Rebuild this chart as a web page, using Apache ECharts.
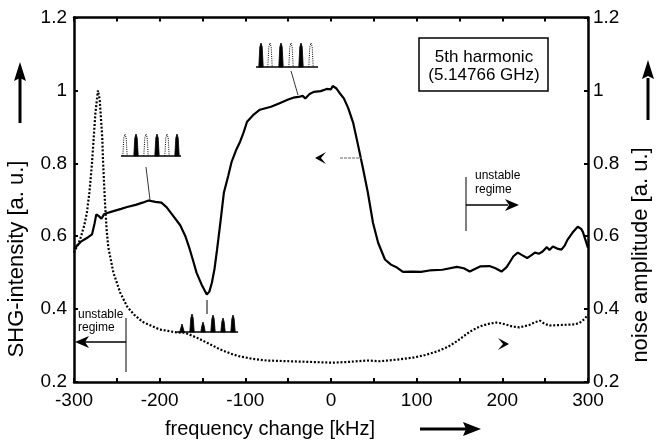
<!DOCTYPE html>
<html><head><meta charset="utf-8">
<script src="https://cdn.jsdelivr.net/npm/echarts@6/dist/echarts.min.js"></script>
<style>html,body{margin:0;padding:0;background:#fff}#c{width:658px;height:444px}</style>
</head><body><div id="c"></div>
<script>
// frequency change [kHz] and SHG intensity (solid curve)
const shgFreq = [-300,-292,-285,-279,-276,-274,-271,-268,-265,-262,-255,-245,-238,-228,-220,-213,-205,-198,-192,-184,-176,-170,-165,-160,-157,-151,-145,-142,-139,-136,-133,-129,-125,-120,-116,-111,-106,-102,-98,-91,-83,-70,-60,-50,-44,-38,-33,-30,-25,-20,-12,-5,0,2,6,10,15,20,26,31,37,43,49,55,63,70,77,84,95,105,115,130,147,155,162,168,174,185,192,199,205,209,213,218,223,229,234,238,243,247,252,255,259,264,269,273,276,282,288,292,294,297,300];
const shgValues = [0.565,0.585,0.595,0.605,0.635,0.66,0.655,0.648,0.66,0.663,0.668,0.675,0.68,0.686,0.692,0.698,0.694,0.692,0.68,0.655,0.63,0.6,0.565,0.525,0.5,0.467,0.44,0.448,0.473,0.51,0.563,0.64,0.72,0.765,0.804,0.835,0.86,0.885,0.914,0.932,0.947,0.955,0.965,0.975,0.98,0.982,0.985,0.978,0.99,0.996,0.998,1.004,1.003,1.012,1.006,0.993,0.978,0.952,0.91,0.856,0.79,0.72,0.637,0.582,0.536,0.522,0.514,0.502,0.503,0.502,0.506,0.508,0.516,0.512,0.503,0.51,0.517,0.518,0.512,0.503,0.515,0.53,0.545,0.555,0.548,0.54,0.548,0.555,0.552,0.558,0.57,0.562,0.572,0.566,0.563,0.575,0.59,0.61,0.626,0.62,0.612,0.59,0.568];
// noise amplitude (dotted curve)
const noiseFreq = [-300,-293,-288,-285,-282,-279,-277,-275,-273,-272,-270,-269,-267,-266,-264,-262,-260,-254,-246,-238,-230,-220,-200,-180,-170,-157,-145,-130,-115,-106,-90,-75,-36,2,20,42,57,80,96,110,124,137,147,155,162,170,177,185,193,199,205,212,220,226,232,238,244,249,255,265,275,284,290,296,300];
const noiseValues = [0.555,0.59,0.63,0.664,0.72,0.8,0.87,0.938,0.98,1.0,0.975,0.94,0.87,0.8,0.7,0.62,0.57,0.5,0.445,0.407,0.385,0.365,0.344,0.336,0.335,0.322,0.308,0.29,0.276,0.27,0.263,0.259,0.256,0.253,0.255,0.259,0.257,0.262,0.267,0.274,0.284,0.297,0.312,0.326,0.338,0.348,0.355,0.36,0.363,0.361,0.357,0.352,0.35,0.353,0.357,0.364,0.368,0.36,0.355,0.356,0.357,0.358,0.362,0.373,0.385];
const xTickLabels = [-300,-200,-100,0,100,200,300];
const yTickLabels = [0.2,0.4,0.6,0.8,1,1.2];

const FONT = '"Liberation Sans", Arial, sans-serif';
const chart = echarts.init(document.getElementById('c'), null, {renderer:'canvas'});
const axLine = {show:true, onZero:false, lineStyle:{color:'#000', width:2.5}};
const tick = {show:true, inside:true, length:4, lineStyle:{color:'#000', width:2}};
function xAxisDef(pos, labels){
  return {type:'value', position:pos, min:-300, max:300, interval:50,
    axisLine:axLine, axisTick:tick, splitLine:{show:false},
    axisLabel:{show:labels, fontFamily:FONT, fontSize:19, color:'#000', margin:9,
      formatter:v=> xTickLabels.indexOf(v)>=0 ? String(v) : ''}};
}
function yAxisDef(pos){
  return {type:'value', position:pos, min:0.2, max:1.2, interval:0.2,
    axisLine:axLine, axisTick:tick, splitLine:{show:false},
    axisLabel:{fontFamily:FONT, fontSize:19, color:'#000', margin:pos==='left'?7:5,
      formatter:v=>{const r=Math.round(v*10)/10; return yTickLabels.indexOf(r)>=0?String(r):'';}}};
}
const g = [];
function line(x1,y1,x2,y2,w,extra){g.push(Object.assign({type:'line',shape:{x1,y1,x2,y2},style:Object.assign({stroke:'#000',lineWidth:w},extra||{}),z:10}));}
function poly(points,fill){g.push({type:'polygon',shape:{points},style:{fill:fill||'#000'},z:10});}
function text(x,y,t,size,opts){g.push({type:'text',x,y,rotation:(opts&&opts.rot)||0,style:{text:t,fill:'#000',font:size+'px '+FONT,textAlign:(opts&&opts.align)||'left',textVerticalAlign:'middle'},z:10});}
function pulse(cx,base,h,solid){
  const pts=[[cx-2.2,base],[cx-1.2,base-h+4],[cx,base-h],[cx+1.2,base-h+4],[cx+2.2,base]];
  if(solid){g.push({type:'polygon',shape:{points:pts},style:{fill:'#000',stroke:'#000',lineWidth:0.8},z:10});}
  else{g.push({type:'polyline',shape:{points:pts},style:{stroke:'#000',lineWidth:1,lineDash:[1,1.2]},z:10});}
}
// axis names
text(17,259,'SHG-intensity [a. u.]',22,{rot:Math.PI/2,align:'center'});
text(641,255,'noise amplitude [a. u.]',22,{rot:Math.PI/2,align:'center'});
text(165,429,'frequency change [kHz]',20,{});
// big arrows
line(20,123,20,78,3); poly([[20,62],[14,81],[20,78],[26,81]]);
line(648,120,648,78,3); poly([[648,60],[642,79],[648,76],[654,79]]);
line(420,429,466,429,3); poly([[481,429],[463,422],[466,429],[463,436]]);
// box
g.push({type:'rect',shape:{x:419,y:38,width:129,height:53},style:{fill:'#fff',stroke:'#000',lineWidth:1.5},z:9});
text(484,57,'5th harmonic',17,{align:'center'});
text(484,75,'(5.14766 GHz)',17,{align:'center'});
// unstable regime left
text(78,315,'unstable',12,{}); text(78,328,'regime',12,{});
line(126,318,126,372,1); line(126,342,84,342,1.5); poly([[75,342],[89,336],[85,342],[89,348]]);
// unstable regime right
text(475,176,'unstable',12,{}); text(475,190,'regime',12,{});
line(466,177,466,231,1); line(466,205,508,205,1.5); poly([[519,205],[505,199],[509,205],[505,211]]);
// small arrowheads
poly([[315,158],[326,152],[321,158],[326,164]]); line(340,158,362,158,1,{stroke:'#666',lineDash:[3,1]});
poly([[509,344],[498,338],[503,344],[498,350]]);
// inset A
line(121,156,181,156,1.5);
[[125,0],[136,1],[146,0],[157,1],[167,0],[177,1]].forEach(p=>pulse(p[0],156,22,p[1]));
line(146,167,150,200,0.8);
// inset B
line(256,67,318,67,1.5);
[[261,1],[270,0],[281,1],[291,0],[301,1],[311,0]].forEach(p=>pulse(p[0],67,24,p[1]));
line(291,71,298,95,0.8);
// inset C
line(177,332,238,332,1.5);
[[182,8],[192,18],[203,10],[213,17],[223,14],[233,17]].forEach(p=>pulse(p[0],332,p[1],1));
line(207,300,207,314,1);

chart.setOption({
  animation:false,
  backgroundColor:'#fff',
  grid:{left:74,right:70,top:17.5,bottom:62},
  xAxis:[xAxisDef('bottom',true), xAxisDef('top',false)],
  yAxis:[yAxisDef('left'), yAxisDef('right')],
  series:[
    {type:'line', xAxisIndex:0, yAxisIndex:0, showSymbol:false, data:shgFreq.map((x,i)=>[x,shgValues[i]]),
      lineStyle:{color:'#000', width:2.2}, z:3},
    {type:'line', xAxisIndex:0, yAxisIndex:1, showSymbol:false, data:noiseFreq.map((x,i)=>[x,noiseValues[i]]),
      lineStyle:{color:'#000', width:2.2, type:[2,1.8]}, z:2}
  ],
  graphic:g
});
</script></body></html>
